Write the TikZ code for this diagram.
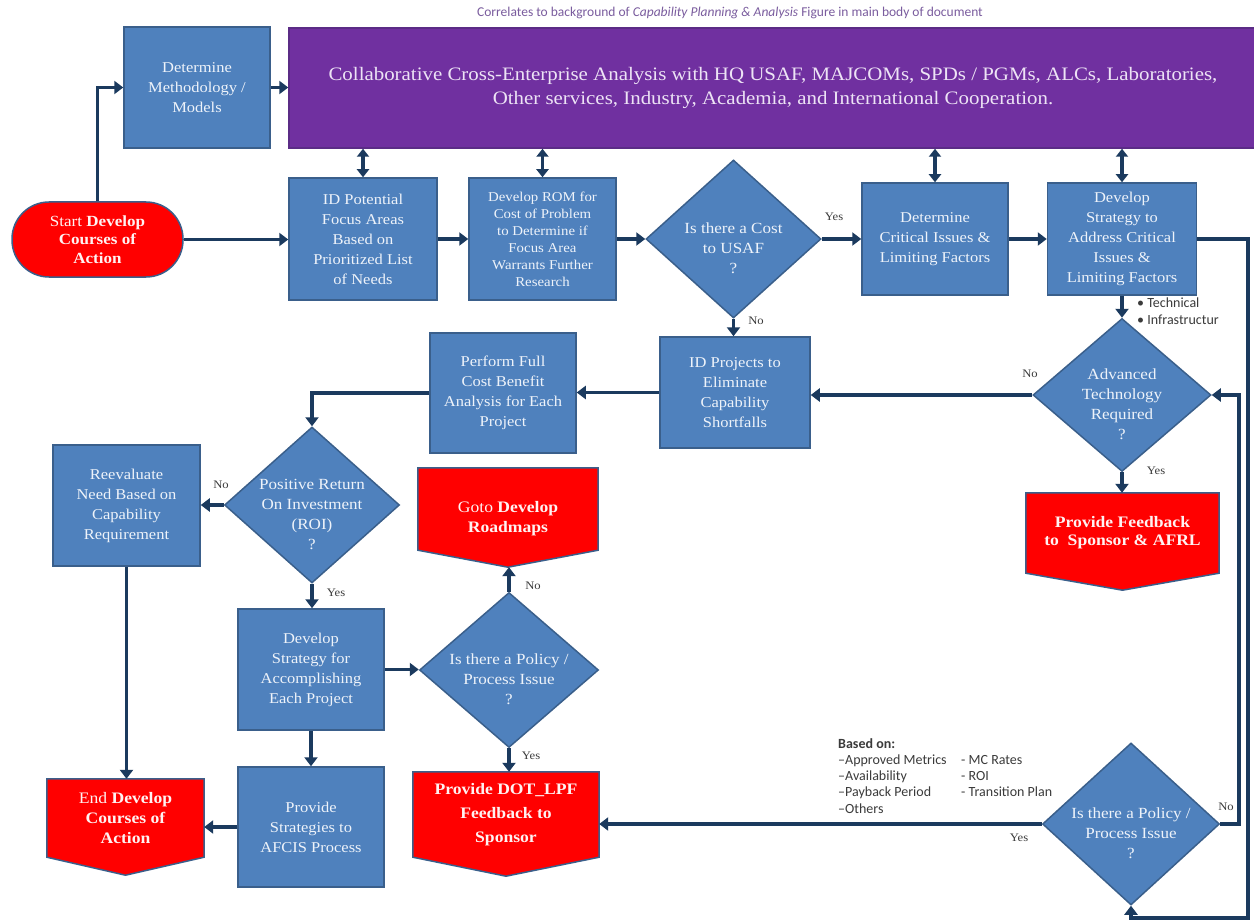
\documentclass[tikz,border=0pt]{standalone}
\usepackage{fontspec}
\setmainfont{Liberation Serif}[FakeStretch=1.1]
\newfontfamily\notefont{Carlito}
\usetikzlibrary{arrows.meta,shapes.geometric,calc,backgrounds}

\definecolor{boxblue}{HTML}{4F81BD}
\definecolor{boxedge}{HTML}{3A5F8B}
\definecolor{collabfill}{HTML}{7030A0}
\definecolor{collabedge}{HTML}{5B2C86}
\definecolor{alert}{HTML}{FF0000}
\definecolor{flowc}{HTML}{1B3A5E}
\definecolor{boxtxt}{HTML}{EEF3FA}
\definecolor{collabtxt}{HTML}{EDE3F5}
\definecolor{termtxt}{HTML}{FFF2F2}
\definecolor{lbltxt}{HTML}{3B3B3B}
\definecolor{captxt}{HTML}{7A5C9E}

\tikzset{
  procbox/.style={rectangle, draw=boxedge, line width=1.5pt, fill=boxblue,
    text=boxtxt, align=center, inner sep=1pt, font=\fontsize{15}{20}\selectfont},
  decision/.style={diamond, draw=boxedge, line width=1.5pt, fill=boxblue, inner sep=0pt},
  dectext/.style={text=boxtxt, align=center, yshift=-9pt, font=\fontsize{15.5}{20}\selectfont},
  terminal/.style={rectangle, inner sep=0pt, align=center, text=termtxt,
    font=\fontsize{16}{20}\selectfont},
  termlabel/.style={text=termtxt, align=center, font=\fontsize{16}{20}\selectfont},
  termfill/.style={fill=alert, draw=boxedge, line width=1.5pt, line join=miter},
  flowarrow/.style={draw=flowc, line width=3.5pt, line join=miter,
    -{Triangle[width=13pt,length=9pt]}},
  twoway/.style={draw=flowc, line width=3.5pt,
    {Triangle[width=12pt,length=8pt]}-{Triangle[width=12pt,length=8pt]}},
  answer/.style={text=lbltxt, inner sep=0pt, font=\fontsize{11.5}{13}\selectfont},
  note/.style={text=lbltxt, inner sep=0pt, align=left, font=\notefont\fontsize{14}{16.3}\selectfont},
}

\begin{document}
\begin{tikzpicture}[x=1pt, y=-1pt]
\useasboundingbox (0,0) rectangle (1254,923);

% caption
\node[text=captxt, inner sep=0pt, font=\notefont\fontsize{13.5}{15}\selectfont] (caption) at (730,13)
  {Correlates to background of \textit{Capability Planning \& Analysis} Figure in main body of document};

% top row
\node[procbox, minimum width=146pt, minimum height=121pt] (meth) at (197,87.5)
  {Determine\\Methodology /\\Models};
\node[procbox, fill=collabfill, draw=collabedge, text=collabtxt, minimum width=968pt,
  minimum height=120pt, font=\fontsize{19}{24}\selectfont] (collab) at (773,88)
  {Collaborative Cross-Enterprise Analysis with HQ USAF, MAJCOMs, SPDs / PGMs, ALCs, Laboratories,\\
   Other services, Industry, Academia, and International Cooperation.};

\node[rectangle, rounded corners=37pt, fill=alert, draw=boxedge, line width=1.5pt,
  minimum width=171pt, minimum height=75pt, text=termtxt, align=center,
  font=\fontsize{15.5}{18.5}\selectfont] (start) at (97.5,239.5)
  {Start \textbf{Develop}\\\textbf{Courses of}\\\textbf{Action}};

\node[procbox, minimum width=148pt, minimum height=122pt] (idpot) at (363,239)
  {ID Potential\\Focus Areas\\Based on\\Prioritized List\\of Needs};
\node[procbox, minimum width=147pt, minimum height=122pt, font=\fontsize{13.5}{17}\selectfont] (rom) at (542.5,239)
  {Develop ROM for\\Cost of Problem\\to Determine if\\Focus Area\\Warrants Further\\Research};
\node[decision, minimum width=175pt, minimum height=158pt,
  label={[dectext]center:{Is there a Cost\\to USAF\\?}}] (cost) at (733.5,239) {};
\node[procbox, minimum width=146pt, minimum height=112pt] (crit) at (935,239)
  {Determine\\Critical Issues \&\\Limiting Factors};
\node[procbox, minimum width=149pt, minimum height=112pt] (strat) at (1122,239)
  {Develop\\Strategy to\\Address Critical\\Issues \&\\Limiting Factors};

\node[note, anchor=north west] (factors) at (1137,298)
  {\textbullet\ Technical\\\textbullet\ Infrastructur};

% middle row
\node[decision, minimum width=178pt, minimum height=153pt,
  label={[dectext]center:{Advanced\\Technology\\Required\\?}}] (adv) at (1122,395) {};
\node[procbox, minimum width=150pt, minimum height=111pt] (idproj) at (735,392.5)
  {ID Projects to\\Eliminate\\Capability\\Shortfalls};
\node[procbox, minimum width=146pt, minimum height=120pt] (perform) at (503,393)
  {Perform Full\\Cost Benefit\\Analysis for Each\\Project};
\node[decision, minimum width=175pt, minimum height=156pt,
  label={[dectext]center:{Positive Return\\On Investment\\(ROI)\\?}}] (roi) at (312,505) {};
\node[procbox, minimum width=147pt, minimum height=121pt] (reeval) at (126.5,505.5)
  {Reevaluate\\Need Based on\\Capability\\Requirement};

\node[terminal, minimum width=193pt, minimum height=80pt, font=\fontsize{16}{18}\selectfont] (fb) at (1122.5,533)
  {\textbf{Provide Feedback}\\\textbf{to\ \ Sponsor \& AFRL}};
\node[terminal, minimum width=180pt, minimum height=82pt,
  label={[termlabel, yshift=-10pt]center:{Goto \textbf{Develop}\\\textbf{Roadmaps}}}] (goto) at (508,509) {};

% lower part
\node[procbox, minimum width=146pt, minimum height=121pt] (devfor) at (311,669.5)
  {Develop\\Strategy for\\Accomplishing\\Each Project};
\node[decision, minimum width=179pt, minimum height=155pt,
  label={[dectext]center:{Is there a Policy /\\Process Issue\\?}}] (pol1) at (509,670) {};
\node[procbox, minimum width=146pt, minimum height=120pt] (provstrat) at (311,827)
  {Provide\\Strategies to\\AFCIS Process};
\node[terminal, minimum width=186pt, minimum height=85pt, font=\fontsize{16}{24}\selectfont] (dot) at (506,814.5)
  {\textbf{Provide DOT\_LPF}\\\textbf{Feedback to}\\\textbf{Sponsor}};
\node[terminal, minimum width=157pt, minimum height=78pt] (end) at (125.5,818)
  {End \textbf{Develop}\\\textbf{Courses of}\\\textbf{Action}};
\node[decision, minimum width=177pt, minimum height=162pt,
  label={[dectext]center:{Is there a Policy /\\Process Issue\\?}}] (pol2) at (1131,824) {};

\node[note, anchor=north west] (basis) at (838,738)
  {\textbf{Based on:}\\
   \makebox[123pt][l]{\textendash Approved Metrics}- MC Rates\\
   \makebox[123pt][l]{\textendash Availability}- ROI\\
   \makebox[123pt][l]{\textendash Payback Period}- Transition Plan\\
   \textendash Others};

% page background and off-page connector outlines, under the nodes
\begin{pgfonlayer}{background}
\fill[white] (0,0) rectangle (1254,923);
\foreach \nm/\dp in {fb/17, goto/17, dot/19, end/18} {
  \path[termfill] (\nm.north west) -- (\nm.north east) -- (\nm.south east)
    -- ($(\nm.south)+(0,\dp)$) -- (\nm.south west) -- cycle;
}
\end{pgfonlayer}
\coordinate (gototip) at ($(goto.south)+(0,17)$);

% routing points of the two return loops
\coordinate (outerrail) at (1248,918);
\coordinate (innerrail) at (1239,395);

% connectors
\draw[flowarrow] (start.north) |- (meth.west);
\draw[flowarrow] (meth.east) -- (meth.east -| collab.west);
\draw[flowarrow] (start.east) -- (start.east -| idpot.west);
\draw[twoway] (idpot.north) -- (idpot.north |- collab.south);
\draw[twoway] (rom.north) -- (rom.north |- collab.south);
\draw[twoway] (crit.north) -- (crit.north |- collab.south);
\draw[twoway] (strat.north) -- (strat.north |- collab.south);
\draw[flowarrow] (idpot.east) -- (rom.west);
\draw[flowarrow] (rom.east) -- (rom.east -| cost.west);
\draw[flowarrow] (cost.east) -- (cost.east -| crit.west);
\draw[flowarrow] (crit.east) -- (strat.west);
\draw[flowarrow] (strat.east) -| (outerrail) -| (pol2.south);
\draw[flowarrow] (strat.south) -- (strat.south |- adv.north);
\draw[flowarrow] (adv.west) -- (adv.west -| idproj.east);
\draw[flowarrow] (adv.south) -- (adv.south |- fb.north);
\draw[flowarrow] (pol2.east) -| (innerrail) -- (adv.east);
\draw[flowarrow] (cost.south) -- (cost.south |- idproj.north);
\draw[flowarrow] (idproj.west) -- (idproj.west -| perform.east);
\draw[flowarrow] (perform.west) -| (roi.north);
\draw[flowarrow] (roi.west) -- (roi.west -| reeval.east);
\draw[flowarrow] (reeval.south) -- (reeval.south |- end.north);
\draw[flowarrow] (roi.south) -- (roi.south |- devfor.north);
\draw[flowarrow] (devfor.south) -- (provstrat.north);
\draw[flowarrow] (provstrat.west) -- (provstrat.west -| end.east);
\draw[flowarrow] (devfor.east) -- (devfor.east -| pol1.west);
\draw[flowarrow] (pol1.north) -- (pol1.north |- gototip);
\draw[flowarrow] (pol1.south) -- (pol1.south |- dot.north);
\draw[flowarrow] (pol2.west) -- (pol2.west -| dot.east);

% branch answers
\node[answer] (a1) at (834,217) {Yes};
\node[answer] (a2) at (756,321) {No};
\node[answer] (a3) at (1030,374) {No};
\node[answer] (a4) at (1156,471) {Yes};
\node[answer] (a5) at (221,485) {No};
\node[answer] (a6) at (336,593) {Yes};
\node[answer] (a7) at (533,586) {No};
\node[answer] (a8) at (531,756) {Yes};
\node[answer] (a9) at (1019,838) {Yes};
\node[answer] (a10) at (1226,807) {No};
\end{tikzpicture}
\end{document}
